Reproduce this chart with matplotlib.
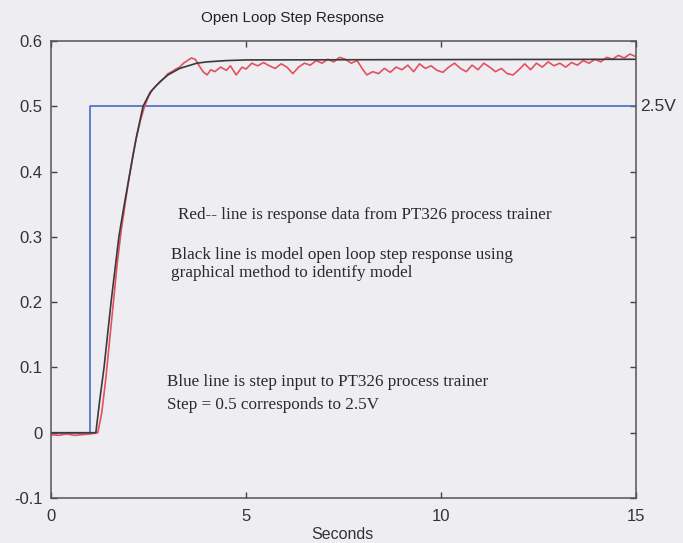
import numpy as np
import matplotlib.pyplot as plt

# step input (blue)
t_step = [0, 1.0, 15]
u_step = [0, 0.5, 0.5]

# model response (black)
t_model = [0, 1.15, 1.25, 1.36, 1.45, 1.54, 1.64, 1.74, 1.88, 2.03, 2.18, 2.36,
           2.55, 2.8, 3.0, 3.3, 3.74, 4.0, 4.5, 5.0, 15]
y_model = [0, 0, 0.05, 0.10, 0.15, 0.20, 0.25, 0.30, 0.35, 0.40, 0.45, 0.50,
           0.522, 0.538, 0.548, 0.558, 0.566, 0.568, 0.570, 0.571, 0.572]

t_meas = [0, 0.2, 0.4, 0.6, 0.8, 1.0, 1.2, 1.3, 1.4, 1.5, 1.6, 1.7, 1.8, 1.9,
          2.0, 2.1, 2.2, 2.3, 2.4, 2.5, 2.6, 2.7, 2.8, 2.9, 3.0, 3.1, 3.2, 3.3,
          3.4, 3.5, 3.6, 3.7, 3.8, 3.9, 4.0, 4.1, 4.2, 4.35, 4.5, 4.6, 4.75,
          4.9, 5.0, 5.15, 5.3, 5.45, 5.6, 5.75, 5.9, 6.05, 6.2, 6.35, 6.5,
          6.65, 6.8, 6.95, 7.1, 7.25, 7.4, 7.55, 7.7, 7.85, 8.0, 8.1, 8.25,
          8.4, 8.55, 8.7, 8.85, 9.0, 9.15, 9.3, 9.45, 9.6, 9.75, 9.9, 10.05,
          10.2, 10.35, 10.5, 10.65, 10.8, 10.95, 11.1, 11.25, 11.4, 11.55,
          11.7, 11.85, 12.0, 12.15, 12.3, 12.45, 12.6, 12.75, 12.9, 13.05,
          13.2, 13.35, 13.5, 13.65, 13.8, 13.95, 14.1, 14.25, 14.4, 14.55,
          14.7, 14.85, 15.0]
y_meas = [-0.003, -0.004, -0.002, -0.004, -0.003, -0.002, 0.0, 0.03, 0.08,
          0.14, 0.20, 0.26, 0.31, 0.35, 0.39, 0.425, 0.455, 0.48, 0.5, 0.515,
          0.525, 0.532, 0.537, 0.543, 0.55, 0.553, 0.557, 0.56, 0.566, 0.57,
          0.574, 0.572, 0.562, 0.553, 0.548, 0.556, 0.553, 0.56, 0.555, 0.562,
          0.548, 0.56, 0.557, 0.566, 0.562, 0.567, 0.562, 0.558, 0.565, 0.56,
          0.55, 0.56, 0.566, 0.563, 0.57, 0.566, 0.572, 0.568, 0.575, 0.572,
          0.566, 0.57, 0.556, 0.548, 0.553, 0.55, 0.558, 0.552, 0.56, 0.556,
          0.563, 0.553, 0.565, 0.558, 0.562, 0.555, 0.552, 0.56, 0.566, 0.558,
          0.553, 0.563, 0.556, 0.566, 0.56, 0.553, 0.558, 0.55, 0.548, 0.556,
          0.565, 0.556, 0.566, 0.56, 0.568, 0.562, 0.566, 0.56, 0.567, 0.563,
          0.57, 0.566, 0.572, 0.568, 0.575, 0.572, 0.578, 0.574, 0.58, 0.576]

x_ticks = [0, 5, 10, 15]
y_ticks = [-0.1, 0, 0.1, 0.2, 0.3, 0.4, 0.5, 0.6]
y_labels = ['-0.1', '0', '0.1', '0.2', '0.3', '0.4', '0.5', '0.6']

bg = '#eeeef2'
fig = plt.figure(figsize=(6.83, 5.43), dpi=100, facecolor=bg)
ax = fig.add_axes([0.0747, 0.0829, 0.931 - 0.0747, 0.9245 - 0.0829])
ax.set_facecolor(bg)

ax.plot(t_step, u_step, drawstyle='steps-post', color='#4a6cc4', lw=1.2)
ax.plot(t_meas, y_meas, color='#e4505e', lw=1.2)
ax.plot(t_model, y_model, color='#3a3a3a', lw=1.2)

ax.set_xlim(0, 15)
ax.set_ylim(-0.1, 0.6)
ax.set_xticks(x_ticks)
ax.set_yticks(y_ticks)
ax.set_yticklabels(y_labels)
ax.tick_params(direction='in', top=True, right=True, length=4, width=1,
               color='#444444', labelsize=12, labelcolor='#333333')
ax.tick_params(axis='x', pad=8)
ax.tick_params(axis='y', pad=6)
for lab in ax.get_xticklabels() + ax.get_yticklabels():
    lab.set_family('Liberation Sans')
for s in ax.spines.values():
    s.set_color('#555555')
    s.set_linewidth(1.1)

fig.text(0.502, 0.016, 'Seconds', family='Liberation Sans', fontsize=11.5,
         color='#333333', ha='center', va='center')
fig.text(0.428, 0.967, 'Open Loop Step Response', family='Liberation Sans',
         fontsize=11, color='#222222', ha='center', va='center')
ax.text(15.12, 0.5, '2.5V', family='Liberation Sans', fontsize=12.5,
        color='#333333', va='center', ha='left', clip_on=False)

serif = dict(family='Liberation Serif', fontsize=12.3, color='#2a2a2a',
             ha='left', va='center')
ax.text(3.26, 0.334, 'Red-- line is response data from PT326 process trainer', **serif)
ax.text(3.08, 0.272, 'Black line is model open loop step response using', **serif)
ax.text(3.08, 0.245, 'graphical method to identify model', **serif)
ax.text(2.97, 0.077, 'Blue line is step input to PT326 process trainer', **serif)
ax.text(2.97, 0.043, 'Step = 0.5 corresponds to 2.5V', **serif)

fig.savefig('out.png', dpi=100, facecolor=bg)
